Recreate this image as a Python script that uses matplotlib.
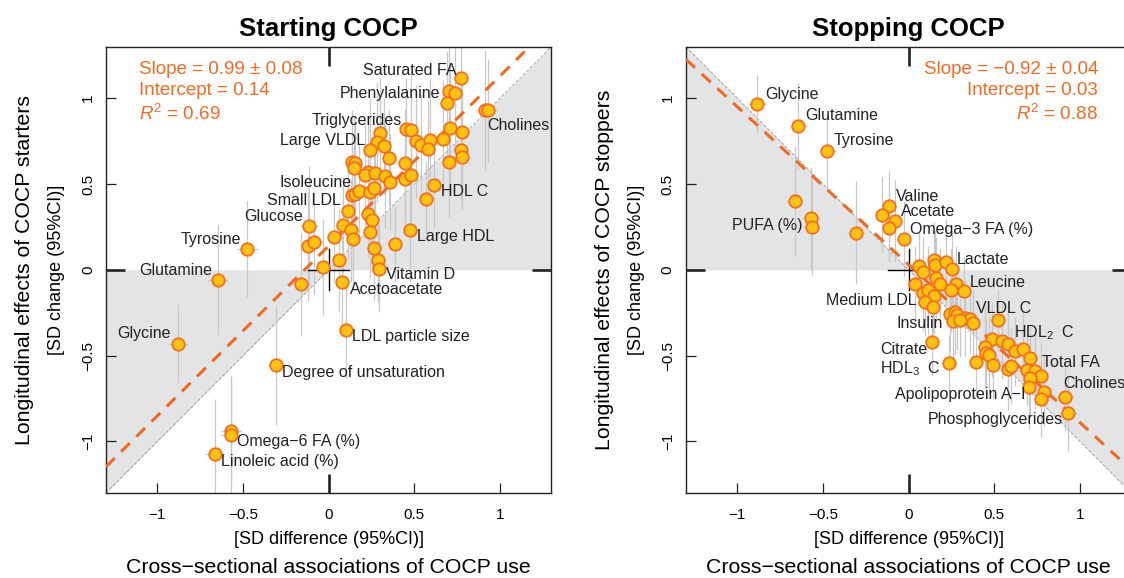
import numpy as np
import matplotlib
matplotlib.use("Agg")
import matplotlib.pyplot as plt

plt.rcParams['font.family'] = ['Liberation Sans', 'DejaVu Sans']
plt.rcParams['mathtext.fontset'] = 'custom'
plt.rcParams['mathtext.rm'] = 'Liberation Sans'
plt.rcParams['mathtext.it'] = 'Liberation Sans:italic'

# ---------------------------------------------------------------
# Starting COCP: cross-sectional (x) vs longitudinal change (y)
start_x = [0.77, 0.70, 0.74, 0.69, 0.91, 0.93, 0.30, 0.45, 0.48, 0.71,
           0.78, 0.28, 0.32, 0.24, 0.51, 0.54, 0.59, 0.58, 0.665, 0.77,
           0.78, 0.70, 0.35, 0.135, 0.155, 0.145, 0.445, 0.23, 0.21, 0.27,
           0.33, 0.36, 0.445, 0.48, 0.615, 0.57, 0.135, 0.155, 0.175, 0.24,
           0.265, 0.11, 0.23, 0.25, -0.115, 0.085, 0.13, 0.24, 0.475, 0.03,
           0.14, -0.12, -0.085, 0.385, 0.265, -0.475, 0.285, 0.06, 0.295, -0.035,
           -0.645, 0.08, -0.16, 0.10, -0.88, -0.31, -0.57, -0.57, -0.665]
start_y = [1.12, 1.04, 1.03, 0.975, 0.93, 0.93, 0.80, 0.82, 0.815, 0.825,
           0.805, 0.745, 0.72, 0.70, 0.75, 0.725, 0.755, 0.705, 0.765, 0.70,
           0.655, 0.63, 0.65, 0.63, 0.62, 0.595, 0.62, 0.57, 0.555, 0.565,
           0.545, 0.51, 0.53, 0.55, 0.495, 0.415, 0.435, 0.44, 0.46, 0.455,
           0.475, 0.345, 0.325, 0.29, 0.255, 0.26, 0.23, 0.22, 0.23, 0.19,
           0.18, 0.14, 0.16, 0.15, 0.125, 0.12, 0.06, 0.055, 0.005, 0.015,
           -0.06, -0.07, -0.085, -0.35, -0.43, -0.555, -0.94, -0.965, -1.07]
start_xerr = [0.04, 0.04, 0.04, 0.04, 0.05, 0.05, 0.04, 0.04, 0.04, 0.04,
              0.04, 0.04, 0.04, 0.04, 0.04, 0.04, 0.04, 0.04, 0.04, 0.04,
              0.04, 0.04, 0.04, 0.04, 0.04, 0.04, 0.04, 0.04, 0.04, 0.04,
              0.04, 0.04, 0.04, 0.04, 0.04, 0.04, 0.04, 0.04, 0.04, 0.04,
              0.04, 0.04, 0.04, 0.04, 0.05, 0.04, 0.04, 0.04, 0.04, 0.04,
              0.04, 0.05, 0.05, 0.04, 0.04, 0.06, 0.04, 0.04, 0.04, 0.04,
              0.06, 0.04, 0.05, 0.04, 0.06, 0.05, 0.06, 0.06, 0.06]
start_yerr = [0.30, 0.35, 0.32, 0.30, 0.35, 0.30, 0.32, 0.30, 0.34, 0.38,
              0.30, 0.35, 0.28, 0.30, 0.33, 0.30, 0.36, 0.28, 0.34, 0.30,
              0.30, 0.33, 0.28, 0.30, 0.26, 0.30, 0.32, 0.28, 0.30, 0.27,
              0.30, 0.28, 0.30, 0.33, 0.25, 0.22, 0.30, 0.26, 0.28, 0.30,
              0.27, 0.28, 0.25, 0.30, 0.35, 0.28, 0.30, 0.27, 0.30, 0.26,
              0.30, 0.32, 0.30, 0.22, 0.30, 0.28, 0.25, 0.30, 0.25, 0.28,
              0.32, 0.28, 0.30, 0.28, 0.23, 0.35, 0.32, 0.34, 0.32]

# Stopping COCP
stop_x = [-0.885, -0.645, -0.475, -0.665, -0.57, -0.565, -0.31, -0.115, -0.155, -0.08,
          -0.115, -0.03, 0.06, 0.15, 0.155, 0.215, 0.25, 0.085, 0.035, 0.16,
          0.18, 0.275, 0.245, 0.32, 0.085, 0.115, 0.145, 0.095, 0.14, 0.24,
          0.27, 0.28, 0.33, 0.36, 0.26, 0.30, 0.375, 0.52, 0.135, 0.235,
          0.39, 0.485, 0.445, 0.45, 0.47, 0.49, 0.545, 0.58, 0.62, 0.67,
          0.71, 0.58, 0.595, 0.69, 0.735, 0.77, 0.71, 0.705, 0.79, 0.77,
          0.915, 0.93]
stop_y = [0.965, 0.84, 0.695, 0.40, 0.30, 0.25, 0.215, 0.375, 0.32, 0.285,
          0.245, 0.18, 0.02, 0.06, 0.03, 0.045, 0.005, -0.01, -0.08, -0.05,
          -0.08, -0.08, -0.12, -0.125, -0.135, -0.12, -0.15, -0.185, -0.215, -0.26,
          -0.245, -0.265, -0.28, -0.285, -0.30, -0.29, -0.31, -0.295, -0.42, -0.54,
          -0.535, -0.405, -0.45, -0.485, -0.495, -0.555, -0.415, -0.43, -0.475, -0.46,
          -0.515, -0.575, -0.56, -0.585, -0.59, -0.62, -0.63, -0.685, -0.71, -0.755,
          -0.74, -0.835]
stop_xerr = [0.05, 0.05, 0.05, 0.05, 0.05, 0.05, 0.05, 0.04, 0.04, 0.04,
             0.04, 0.04, 0.04, 0.04, 0.04, 0.04, 0.04, 0.04, 0.04, 0.04,
             0.04, 0.04, 0.04, 0.04, 0.04, 0.04, 0.04, 0.04, 0.04, 0.04,
             0.04, 0.04, 0.04, 0.04, 0.04, 0.04, 0.04, 0.04, 0.04, 0.04,
             0.04, 0.04, 0.04, 0.04, 0.04, 0.04, 0.04, 0.04, 0.04, 0.04,
             0.04, 0.04, 0.04, 0.04, 0.04, 0.04, 0.04, 0.04, 0.04, 0.04,
             0.05, 0.05]
stop_yerr = [0.17, 0.25, 0.22, 0.32, 0.30, 0.28, 0.30, 0.20, 0.22, 0.24,
             0.20, 0.22, 0.20, 0.22, 0.20, 0.25, 0.22, 0.20, 0.22, 0.24,
             0.20, 0.22, 0.24, 0.20, 0.22, 0.26, 0.22, 0.20, 0.24, 0.22,
             0.25, 0.20, 0.22, 0.20, 0.24, 0.22, 0.20, 0.18, 0.20, 0.16,
             0.20, 0.22, 0.24, 0.20, 0.22, 0.20, 0.22, 0.24, 0.20, 0.22,
             0.20, 0.24, 0.22, 0.20, 0.22, 0.20, 0.22, 0.24, 0.20, 0.22,
             0.20, 0.22]

# labels: (text, x, y, ha)
start_labels = [("Saturated FA", 0.743, 1.159, 'right'),
                ("Phenylalanine", 0.650, 1.025, 'right'),
                ("Cholines", 0.924, 0.839, 'left'),
                ("Triglycerides", 0.428, 0.868, 'right'),
                ("Large VLDL", 0.212, 0.751, 'right'),
                ("Isoleucine", 0.136, 0.507, 'right'),
                ("HDL C", 0.656, 0.454, 'left'),
                ("Small LDL", 0.072, 0.402, 'right'),
                ("Glucose", -0.15, 0.309, 'right'),
                ("Tyrosine", -0.512, 0.175, 'right'),
                ("Large HDL", 0.515, 0.192, 'left'),
                ("Glutamine", -0.681, -0.006, 'right'),
                ("Vitamin D", 0.334, -0.029, 'left'),
                ("Acetoacetate", 0.124, -0.116, 'left'),
                ("LDL particle size", 0.136, -0.39, 'left'),
                ("Glycine", -0.921, -0.373, 'right'),
                ("Degree of unsaturation", -0.273, -0.6, 'left'),
                ("Omega\u22126 FA (%)", -0.535, -1.0, 'left'),
                ("Linoleic acid (%)", -0.629, -1.118, 'left')]
stop_labels = [("Glycine", -0.839, 1.019, 'left'),
               ("Glutamine", -0.605, 0.897, 'left'),
               ("Tyrosine", -0.436, 0.751, 'left'),
               ("Valine", -0.074, 0.425, 'left'),
               ("Acetate", -0.045, 0.338, 'left'),
               ("Omega\u22123 FA (%)", 0.008, 0.233, 'left'),
               ("PUFA (%)", -0.617, 0.256, 'right'),
               ("Lactate", 0.282, 0.058, 'left'),
               ("Leucine", 0.358, -0.076, 'left'),
               ("Medium LDL", 0.048, -0.181, 'right'),
               ("VLDL C", 0.393, -0.227, 'left'),
               ("Insulin", 0.2, -0.315, 'right'),
               ("HDL$_2$  C", 0.615, -0.367, 'left'),
               ("Citrate", 0.107, -0.466, 'right'),
               ("HDL$_3$  C", 0.189, -0.577, 'right'),
               ("Total FA", 0.778, -0.542, 'left'),
               ("Apolipoprotein A\u2212I", 0.679, -0.728, 'right'),
               ("Cholines", 0.901, -0.664, 'left'),
               ("Phosphoglycerides", 0.901, -0.874, 'right')]

start_fit = (0.99, 0.14)
stop_fit = (-0.92, 0.03)
start_stats = ["Slope = 0.99 \u00b1 0.08", "Intercept = 0.14", "$R^2$ = 0.69"]
stop_stats = ["Slope = \u22120.92 \u00b1 0.04", "Intercept = 0.03", "$R^2$ = 0.88"]

tick_vals = [-1, -0.5, 0, 0.5, 1]
lim = 1.3

face = '#FFC20E'
edge = '#F37021'
orange = '#F26A21'
shade = '#E3E4E6'


def draw_panel(ax, xs, ys, xe, ye, diag, fit, labels, stats, stats_right, title, ylab):
    ax.set_xlim(-lim, lim)
    ax.set_ylim(-lim, lim)
    gx = np.array([-lim, lim])
    ax.fill_between(gx, 0, diag * gx, color=shade, lw=0, zorder=0)
    ax.plot(gx, diag * gx, color='#9a9a9a', lw=0.6, ls=(0, (4, 2)), zorder=1)
    ax.errorbar(xs, ys, xerr=xe, yerr=ye, fmt='none', ecolor='#c8c8c8',
                elinewidth=0.9, capsize=0, zorder=2)
    ax.plot([-0.12, 0.12], [0, 0], color='k', lw=1.0, zorder=3)
    ax.plot([0, 0], [-0.12, 0.12], color='k', lw=1.0, zorder=3)
    ax.plot(gx, fit[0] * gx + fit[1], color=orange, lw=2.2, ls=(0, (4, 3)), zorder=4)
    ax.plot(xs, ys, 'o', ms=9, mfc=face, mec=edge, mew=1.3, zorder=5)

    for txt, lx, ly, ha in labels:
        ax.text(lx, ly, txt, ha=ha, va='center', fontsize=11.5, color='#222222', zorder=6)

    sy = [1.165, 1.043, 0.909]
    for s, yy in zip(stats, sy):
        if stats_right:
            ax.text(1.105, yy, s, ha='right', va='center', fontsize=13.5, color=orange)
        else:
            ax.text(-1.107, yy, s, ha='left', va='center', fontsize=13.5, color=orange)

    ax.set_xticks(tick_vals)
    ax.set_yticks(tick_vals)
    ax.set_xticklabels(['\u22121', '\u22120.5', '0', '0.5', '1'])
    ax.set_yticklabels(['\u22121', '\u22120.5', '0', '0.5', '1'], rotation=90, va='center')
    ax.tick_params(direction='in', length=7, width=0.9, top=True, right=True,
                   labelsize=11, color='#222222')
    ax.tick_params(axis='x', pad=11)
    ax.tick_params(axis='y', pad=8)
    for axis in (ax.xaxis, ax.yaxis):
        for t, v in zip(axis.get_major_ticks(), tick_vals):
            if v == 0:
                for ln in (t.tick1line, t.tick2line):
                    ln.set_markersize(14)
                    ln.set_markeredgewidth(1.9)
            else:
                t.tick2line.set_visible(False)
    for sp in ax.spines.values():
        sp.set_linewidth(1.0)
        sp.set_color('#222222')

    ax.set_title(title, fontsize=18.5, fontweight='bold', pad=8)
    ax.text(0.5, -0.105, "[SD difference (95%CI)]", transform=ax.transAxes,
            ha='center', va='center', fontsize=13)
    ax.text(0.5, -0.168, "Cross\u2212sectional associations of COCP use",
            transform=ax.transAxes, ha='center', va='center', fontsize=15.3)
    ax.text(-0.11, 0.5, "[SD change (95%CI)]", transform=ax.transAxes,
            ha='center', va='center', rotation=90, fontsize=13)
    ax.text(-0.182, 0.5, ylab, transform=ax.transAxes,
            ha='center', va='center', rotation=90, fontsize=15.3)


fig = plt.figure(figsize=(11.24, 5.78), dpi=100)
ax1 = fig.add_axes([0.0943, 0.1471, 0.3963, 0.772])
ax2 = fig.add_axes([0.6103, 0.1471, 0.3963, 0.772])

draw_panel(ax1, start_x, start_y, start_xerr, start_yerr, 1, start_fit,
           start_labels, start_stats, False, "Starting COCP",
           "Longitudinal effects of COCP starters")
draw_panel(ax2, stop_x, stop_y, stop_xerr, stop_yerr, -1, stop_fit,
           stop_labels, stop_stats, True, "Stopping COCP",
           "Longitudinal effects of COCP stoppers")

fig.savefig("out.png", dpi=100)
